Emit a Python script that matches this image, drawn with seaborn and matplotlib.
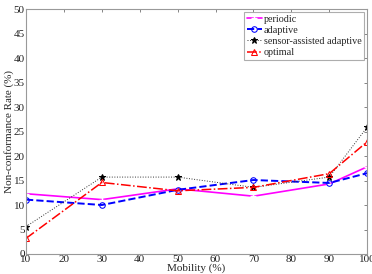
import pandas as pd
import matplotlib
matplotlib.use('Agg')
import matplotlib.pyplot as plt
import seaborn as sns

# valori
mobility = [10, 30, 50, 70, 90, 100]
periodic = [12.3, 11.1, 13.3, 11.8, 14.3, 17.8]
adaptive = [11.1, 10.0, 13.1, 15.1, 14.5, 16.5]
sensor_assisted = [5.6, 15.7, 15.7, 13.6, 15.7, 25.9]
optimal = [3.2, 14.6, 12.9, 13.6, 16.4, 22.9]

sns.set_style('white')
plt.rcParams['font.family'] = ['Liberation Serif', 'DejaVu Serif']

fig = plt.figure(figsize=(3.72, 2.74), dpi=100)
ax = fig.add_axes([0.07, 0.073, 0.917, 0.894])

sns.lineplot(x=mobility, y=periodic, ax=ax, color='#ff00ff', linestyle='-', marker='+',
             markersize=5, markeredgewidth=1, linewidth=1.2, label='periodic')
sns.lineplot(x=mobility, y=adaptive, ax=ax, color='#0000ff', linestyle='--', marker='o',
             markersize=4, markerfacecolor='none', markeredgecolor='#0000ff', linewidth=1.4, label='adaptive')
sns.lineplot(x=mobility, y=sensor_assisted, ax=ax, color='#333333', linestyle=':', marker='*',
             markersize=5, markeredgecolor='black', markerfacecolor='black', linewidth=0.7, label='sensor-assisted adaptive')
sns.lineplot(x=mobility, y=optimal, ax=ax, color='#ff0000', linestyle='-.', marker='^',
             markersize=4, markerfacecolor='none', markeredgecolor='#ff0000', linewidth=1.1, label='optimal')

ax.set_xlim(10, 100)
ax.set_ylim(0, 50)
ax.set_xticks(range(10, 101, 10))
ax.set_yticks(range(0, 51, 5))
ax.set_xlabel('Mobility (%)', fontsize=8, labelpad=-1)
ax.set_ylabel('Non-conformance Rate (%)', fontsize=8, labelpad=0)
ax.tick_params(direction='in', length=2, width=0.5, labelsize=8, pad=1,
               top=True, right=True, colors='#555555', labelcolor='#222222')
for s in ax.spines.values():
    s.set_color('#999999')
    s.set_linewidth(0.8)

leg = ax.legend(loc='upper right', fontsize=7.3, frameon=True, fancybox=False,
                handlelength=1.5, handletextpad=0.2, borderpad=0.25, labelspacing=0.2,
                borderaxespad=0.3)
leg.get_frame().set_edgecolor('#999999')
leg.get_frame().set_linewidth(0.8)

fig.savefig('out.png', dpi=100)
